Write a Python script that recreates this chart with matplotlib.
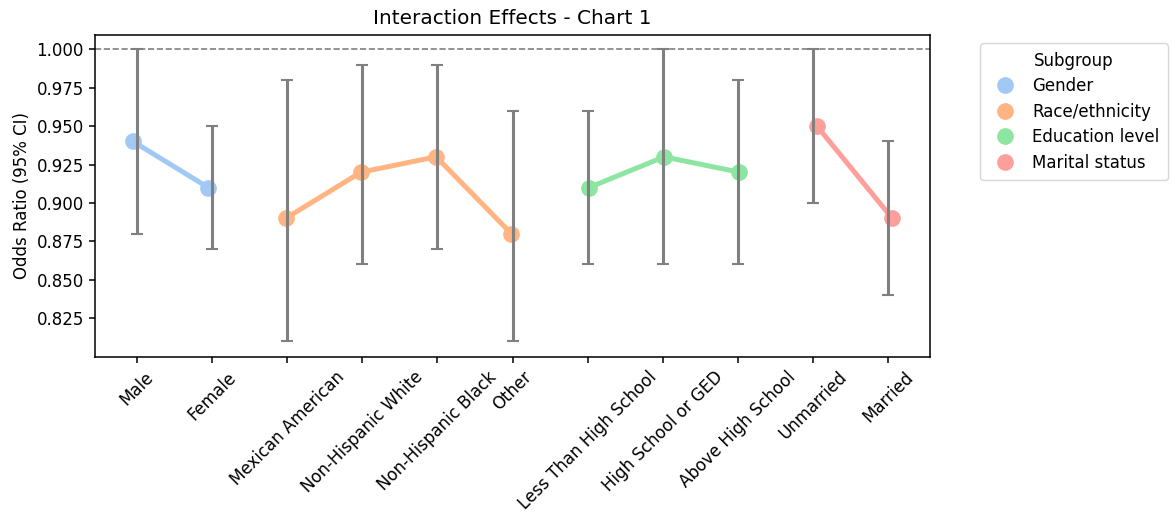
import matplotlib
matplotlib.use("Agg")
import matplotlib.pyplot as plt
from matplotlib.lines import Line2D

# Subgroup categories and their odds ratios with 95% confidence intervals
categories = ["Male", "Female",
              "Mexican American", "Non-Hispanic White", "Non-Hispanic Black", "Other",
              "Less Than High School", "High School or GED", "Above High School",
              "Unmarried", "Married"]
subgroups = ["Gender", "Gender",
             "Race/ethnicity", "Race/ethnicity", "Race/ethnicity", "Race/ethnicity",
             "Education level", "Education level", "Education level",
             "Marital status", "Marital status"]
odds_ratio = [0.94, 0.91, 0.89, 0.92, 0.93, 0.88, 0.91, 0.93, 0.92, 0.95, 0.89]
ci_lower = [0.88, 0.87, 0.81, 0.86, 0.87, 0.81, 0.86, 0.86, 0.86, 0.90, 0.84]
ci_upper = [1.00, 0.95, 0.98, 0.99, 0.99, 0.96, 0.96, 1.00, 0.98, 1.00, 0.94]

group_order = ["Gender", "Race/ethnicity", "Education level", "Marital status"]
group_colors = ["#a1c9f4", "#ffb482", "#8de5a1", "#ff9f9b"]
group_shift = [-0.053, -0.018, 0.018, 0.053]

fs = 12
fig = plt.figure(figsize=(11.73, 5.17), dpi=100)
ax = fig.add_axes([0.081, 0.3095, 0.712, 0.623])

x = list(range(len(categories)))

# Connected points per subgroup
for g, color, shift in zip(group_order, group_colors, group_shift):
    idx = [i for i, s in enumerate(subgroups) if s == g]
    gx = [x[i] + shift for i in idx]
    gy = [odds_ratio[i] for i in idx]
    ax.plot(gx, gy, color=color, lw=3.6, marker="o", markersize=11,
            solid_capstyle="round", zorder=2)

# Confidence interval bars
yerr = [[o - l for o, l in zip(odds_ratio, ci_lower)],
        [u - o for o, u in zip(odds_ratio, ci_upper)]]
ax.errorbar(x, odds_ratio, yerr=yerr, fmt="none", ecolor="gray",
            elinewidth=2.2, capsize=4.5, capthick=1.5, zorder=3)

ax.axhline(1.0, color="gray", linestyle="--", lw=1.2, zorder=1)

ax.set_xticks(x)
ax.set_xticklabels(categories, rotation=45, fontsize=fs)
ax.set_xlim(-0.56, len(categories) - 0.44)
ax.set_yticks([0.825, 0.850, 0.875, 0.900, 0.925, 0.950, 0.975, 1.000])
ax.set_yticklabels([f"{v:.3f}" for v in ax.get_yticks()], fontsize=fs)
ax.set_ylim(0.7995, 1.0095)
ax.set_ylabel("Odds Ratio (95% CI)", fontsize=fs)
ax.set_title("Interaction Effects - Chart 1", fontsize=14.4, pad=8)
ax.tick_params(width=1.1, length=4.5)
for sp in ax.spines.values():
    sp.set_linewidth(1.1)

handles = [Line2D([], [], linestyle="none", marker="o", markersize=11,
                  color=c) for c in group_colors]
ax.legend(handles, group_order, title="Subgroup", loc="upper left",
          bbox_to_anchor=(1.05, 1.0), fontsize=fs, title_fontsize=fs,
          handletextpad=0.6, borderpad=0.5, labelspacing=0.45)

fig.savefig("out.png", dpi=100)
